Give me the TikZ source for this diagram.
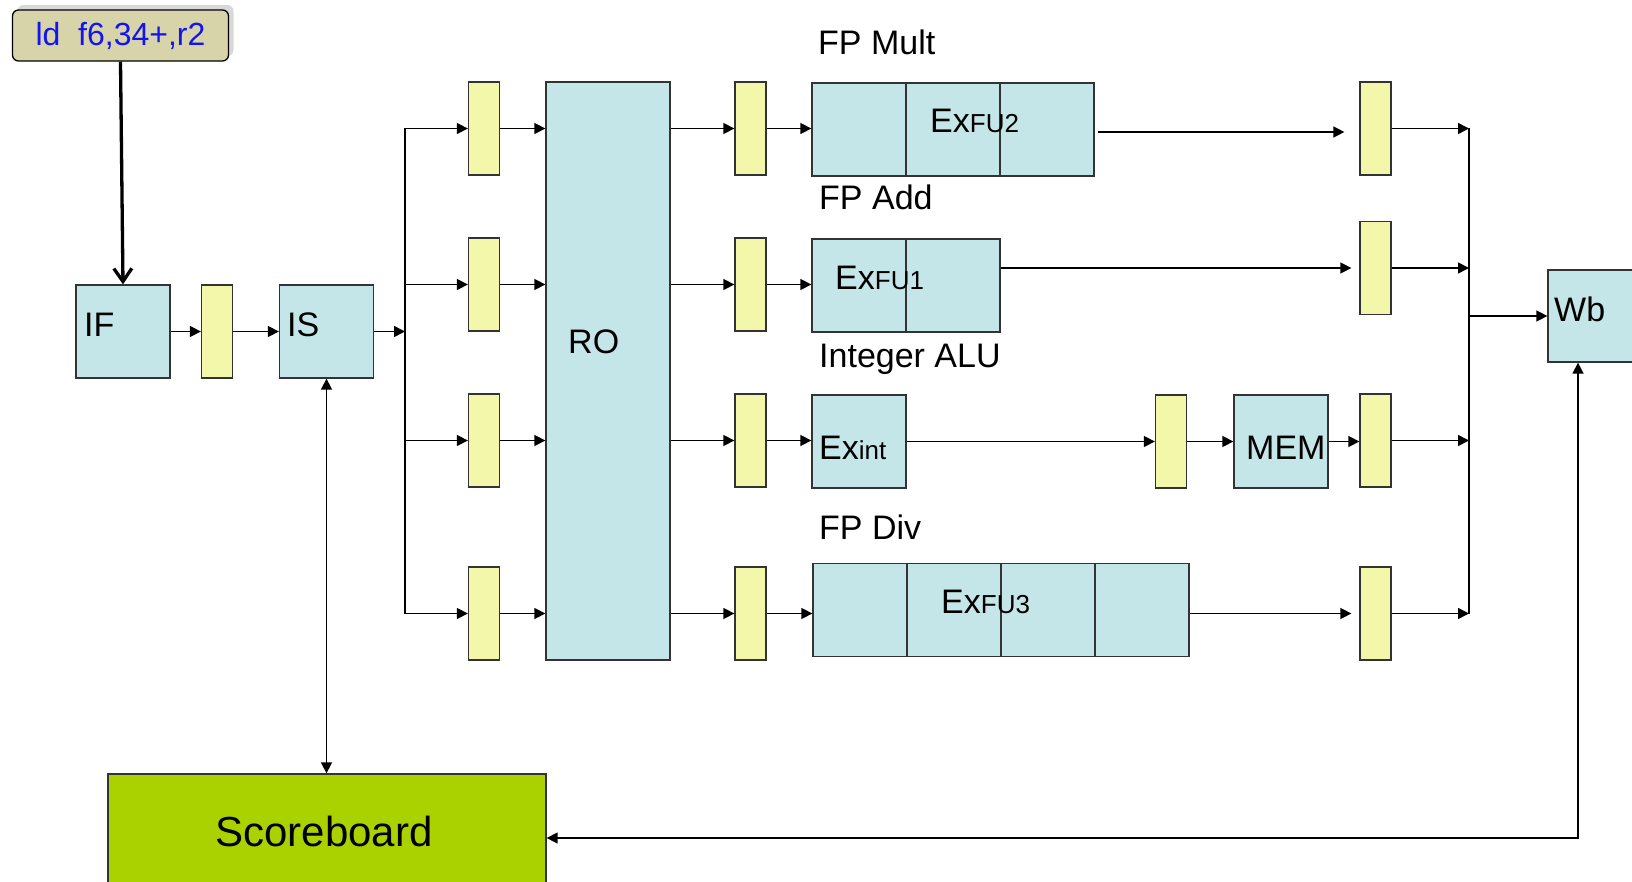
\documentclass[tikz,border=0pt]{standalone}
\usepackage{fontspec}
\setmainfont{Liberation Sans}
\usetikzlibrary{arrows.meta, shadows}
\definecolor{unitblue}{HTML}{C4E6E8}
\definecolor{latchyel}{HTML}{F3F7AA}
\definecolor{instrtan}{HTML}{D6D4A8}
\definecolor{instrblue}{HTML}{1414F0}
\definecolor{sbgreen}{HTML}{AAD200}
\definecolor{edgegray}{HTML}{333333}
\newcommand{\subsz}{\fontsize{26}{30}\selectfont}

\begin{document}
\begin{tikzpicture}[x=1pt, y=-1pt, font=\fontsize{34}{40}\selectfont,
  unitn/.style={draw=edgegray, line width=1.3pt, fill=unitblue, minimum width=94pt, minimum height=93pt, inner sep=0pt},
  latchn/.style={draw=edgegray, line width=1.3pt, fill=latchyel, minimum width=31pt, minimum height=93pt, inner sep=0pt},
  instr/.style={draw=black, line width=1.3pt, fill=instrtan, rounded corners=6pt, minimum width=216pt, minimum height=51pt,
    text=instrblue, font=\fontsize{32}{38}\selectfont,
    drop shadow={shadow xshift=5pt, shadow yshift=5pt, fill=black!30, opacity=0.5}},
  sbn/.style={draw=edgegray, line width=1.3pt, fill=sbgreen, minimum width=438pt, minimum height=128pt},
  lbl/.style={anchor=base west, inner sep=0pt},
  flow/.style={draw=black, line width=1.5pt, -{Triangle[length=11pt, width=11pt]}},
  biflow/.style={draw=black, line width=1.5pt, {Triangle[length=11pt, width=11pt]}-{Triangle[length=11pt, width=11pt]}},
  wire/.style={draw=black, line width=1.5pt},
  fetch/.style={draw=black, line width=3.3pt, -{Straight Barb[length=13pt, width=18pt]}}
]
  \useasboundingbox (0,0) rectangle (1632,882);
  \clip (0,0) rectangle (1632,882);

  % front end
  \node[instr] (ld) at (120.5,35.5) {ld\ \ f6,34+,r2};
  \node[unitn]  (IF) at (123,331.5) {};
  \node[latchn] (L0) at (217,331.5) {};
  \node[unitn]  (IS) at (326.5,331.5) {};
  \node[unitn, minimum width=124pt, minimum height=578pt] (RO) at (608,371) {};
  \coordinate (busin)  at (405,331.5);
  \coordinate (bustop) at (405,128.5);
  \coordinate (busbot) at (405,613.5);
  \coordinate (mtop)   at (1469,128.5);
  \coordinate (mbot)   at (1469,613.5);
  \foreach \r/\y in {1/128.5, 2/284.5, 3/440.5, 4/613.5} {
    \node[latchn] (LA\r) at (484,\y) {};
    \node[latchn] (LB\r) at (750.5,\y) {};
  }

  % functional units
  \node[unitn] (M1) at (859,129.5) {};
  \node[unitn] (M2) at (953,129.5) {};
  \node[unitn] (M3) at (1047,129.5) {};
  \node[unitn] (A1) at (859,285.5) {};
  \node[unitn] (A2) at (953,285.5) {};
  \node[unitn] (EI) at (859,441.5) {};
  \node[latchn] (LI) at (1171,441.5) {};
  \node[unitn] (MEM) at (1281,441.5) {};
  \node[unitn] (D1) at (860,610) {};
  \node[unitn] (D2) at (954,610) {};
  \node[unitn] (D3) at (1048,610) {};
  \node[unitn] (D4) at (1142,610) {};
  \node[latchn] (LC1) at (1375.5,128.5) {};
  \node[latchn] (LC2) at (1375.5,268) {};
  \node[latchn] (LC3) at (1375.5,440.5) {};
  \node[latchn] (LC4) at (1375.5,613.5) {};
  \node[unitn, minimum height=92pt] (Wb) at (1595,316) {};
  \node[sbn] (SB) at (327,838) {};

  % texts
  \node[lbl] (IFt)  at (84,337)    {IF};
  \node[lbl] (ISt)  at (287,337)   {IS};
  \node[lbl] (ROt)  at (568,353)   {RO};
  \node[lbl] (Wbt)  at (1554,322)  {Wb};
  \node[lbl] (MEMt) at (1246,459)  {MEM};
  \node[lbl] (EIt)  at (819,459)   {Ex{\subsz int}};
  \node[lbl] (Mt)   at (930,133)   {Ex{\subsz FU2}};
  \node[lbl] (At)   at (835,290)   {Ex{\subsz FU1}};
  \node[lbl] (Dt)   at (941,613)   {Ex{\subsz FU3}};
  \node[lbl] (Mlbl) at (818,55)    {FP Mult};
  \node[lbl] (Albl) at (819,210)   {FP Add};
  \node[lbl] (Ilbl) at (819,367)   {Integer ALU};
  \node[lbl] (Dlbl) at (819,539)   {FP Div};
  \node[font=\fontsize{42}{48}\selectfont] (SBt) at (324,831) {Scoreboard};

  % connectors
  \draw[fetch] (ld.south) -- (IF.north);
  \draw[flow] (IF) -- (L0);
  \draw[flow] (L0) -- (IS);
  \draw[flow] (IS) -- (busin);
  \draw[wire] (bustop) -- (busbot);
  \foreach \r in {1,...,4} {
    \draw[flow] (bustop |- LA\r) -- (LA\r);
    \draw[flow] (LA\r) -- (LA\r -| RO.west);
    \draw[flow] (LA\r -| RO.east) -- (LB\r);
    \draw[flow] (LC\r) -- (LC\r -| mtop);
  }
  \draw[flow] (LB1) -- (LB1 -| M1.west);
  \draw[flow] (LB2) -- (LB2 -| A1.west);
  \draw[flow] (LB3) -- (LB3 -| EI.west);
  \draw[flow] (LB4) -- (LB4 -| D1.west);
  \draw[flow, shorten <=3pt, shorten >=15pt] ([yshift=-3.5pt]M3.east |- LC1) -- ([yshift=-3.5pt]LC1.west);
  \draw[flow, shorten >=8pt] (A2.east |- LC2) -- (LC2);
  \draw[flow] (EI) -- (LI);
  \draw[flow] (LI) -- (MEM);
  \draw[flow] (MEM) -- (MEM -| LC3.west);
  \draw[flow, shorten >=8pt] (D4.east |- LC4) -- (LC4);
  \draw[wire] (mtop) -- (mbot);
  \draw[flow] (mtop |- Wb) -- (Wb);
  \draw[biflow] (IS.south) -- (IS.south |- SB.north);
  \draw[biflow] (SB.east) -| ([xshift=-17pt]Wb.south);
\end{tikzpicture}
\end{document}
